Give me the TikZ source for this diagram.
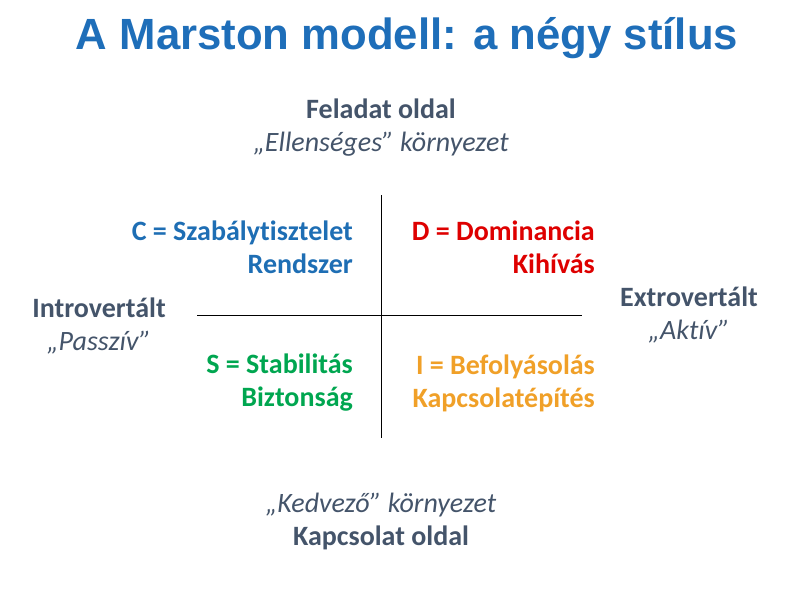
\documentclass[tikz,border=0pt]{standalone}
\usepackage{fontspec}
\setmainfont{Carlito}[Ligatures=NoCommon]
\newfontfamily\titlefont{Liberation Sans}
\usepackage{xcolor}
\usetikzlibrary{positioning}

\definecolor{ttlblue}{RGB}{30,110,185}
\definecolor{slate}{RGB}{68,84,106}
\definecolor{cblue}{RGB}{30,110,180}
\definecolor{dred}{RGB}{222,0,0}
\definecolor{sgreen}{RGB}{0,166,80}
\definecolor{iorange}{RGB}{240,160,40}

\begin{document}
\begin{tikzpicture}[
x=1pt,y=-1pt,
heading/.style={font=\titlefont\bfseries\fontsize{43.7}{50}\selectfont, text=ttlblue, inner sep=0pt},
side/.style={font=\fontsize{28}{33}\selectfont, text=slate, align=center, inner sep=0pt},
quad/.style={font=\bfseries\fontsize{28}{33}\selectfont, align=right, inner sep=0pt, anchor=east},
axis/.style={draw=black, line width=0.8pt}
]
\useasboundingbox (0,0) rectangle (794,595);

\node[heading] (ttl) at (407,38) {A Marston modell: a négy stílus};

% sides of the model
\node[side] (task) at (381,128) {\textbf{Feladat oldal}\\\textit{„Ellenséges” környezet}};
\node[side] (rel) at (381,521) {\textit{„Kedvező” környezet}\\\textbf{Kapcsolat oldal}};
\node[side] (intro) at (99,326) {\textbf{Introvertált}\\\textit{„Passzív”}};
\node[side] (extro) at (689,315) {\textbf{Extrovertált}\\\textit{„Aktív”}};

% axes
\coordinate (top) at (381,195);
\coordinate (bot) at (381,438);
\coordinate (lft) at (197,315);
\coordinate (rgt) at (582,315);
\draw[axis] (top) -- (bot);
\draw[axis] (lft) -- (rgt);

% the four styles
\node[quad, text=cblue] (cstyle) at (353,247) {C = Szabálytisztelet\\Rendszer};
\node[quad, text=dred] (dstyle) at (595,247) {D = Dominancia\\Kihívás};
\node[quad, text=sgreen] (sstyle) at (353,383) {S = Stabilitás\\Biztonság};
\node[quad, text=iorange] (istyle) at (595,383) {I = Befolyásolás\\Kapcsolatépítés};
\end{tikzpicture}
\end{document}
